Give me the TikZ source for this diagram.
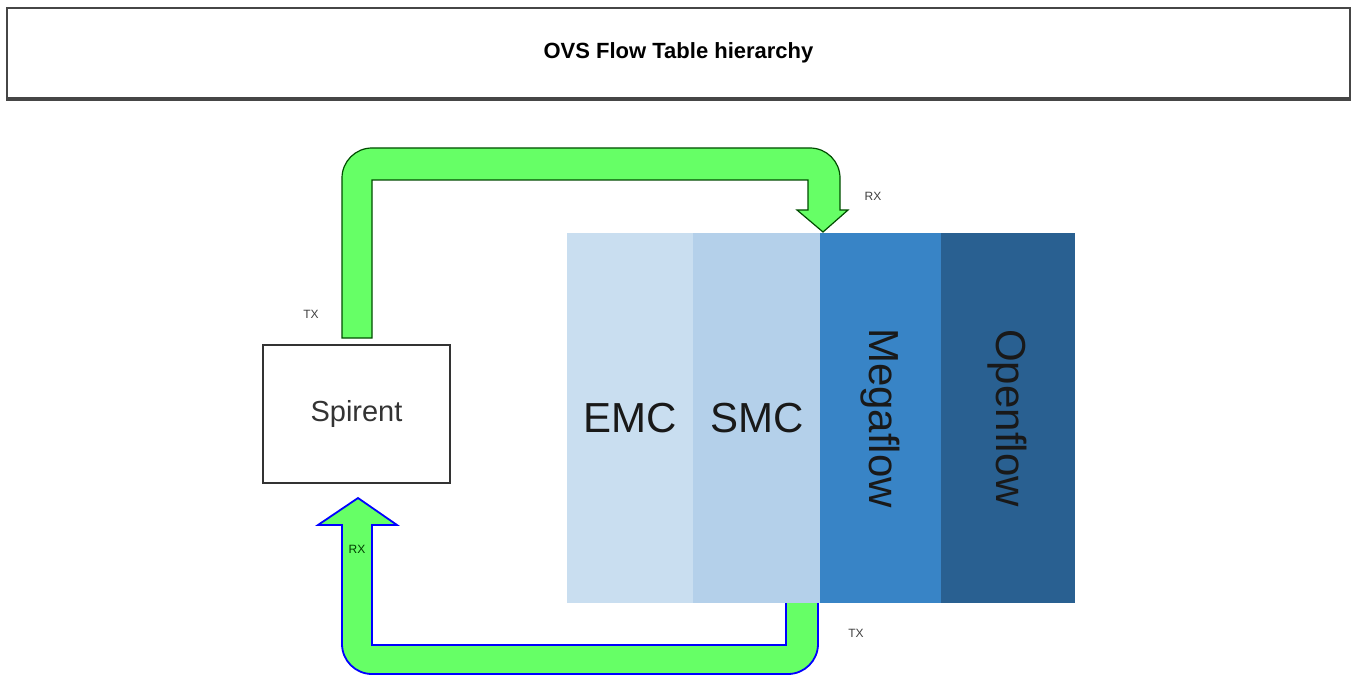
\documentclass[tikz,border=0pt]{standalone}
\usepackage{fontspec}
\setmainfont{Liberation Sans}
\definecolor{arrowgreen}{RGB}{102,255,102}
\definecolor{emccol}{RGB}{201,222,240}
\definecolor{smccol}{RGB}{180,208,234}
\definecolor{megacol}{RGB}{56,132,198}
\definecolor{opencol}{RGB}{41,96,145}
\definecolor{framegray}{RGB}{70,70,70}
\tikzset{
  block/.style={draw=none, inner sep=0pt, minimum height=185pt},
  smalllabel/.style={font=\fontsize{6pt}{7pt}\selectfont, text=black!75},
  bigtext/.style={font=\fontsize{21pt}{25pt}\selectfont, text=black!90}
}
\begin{document}
\begin{tikzpicture}[x=0.5pt,y=-0.5pt]
\useasboundingbox (0,0) rectangle (1353,679);
% title
\node[draw=framegray, line width=1pt, minimum width=671.5pt, minimum height=45pt, inner sep=0pt,
      font=\bfseries\fontsize{11pt}{13pt}\selectfont] (title) at (678.5,53) {OVS Flow Table hierarchy};
\draw[framegray, line width=1.6pt] (title.south west) -- (title.south east);
% bottom arrow (TX from table to RX of Spirent), drawn under the blocks
\draw[fill=arrowgreen, draw=blue, line width=0.9pt]
  (358,498) -- (397,525) -- (372,525) -- (372,645) -- (786,645) -- (786,598) -- (818,598)
  [rounded corners=15pt] -- (818,674) -- (342,674) [sharp corners] -- (342,525) -- (318,525) -- cycle;
% blocks
\node[block, fill=emccol, minimum width=64pt] (emc) at (630.5,418) {};
\node[block, fill=smccol, minimum width=64pt] (smc) at (757,418) {};
\node[block, fill=megacol, minimum width=61pt] (mega) at (880.5,418) {};
\node[block, fill=opencol, minimum width=67pt] (open) at (1007.5,418) {};
\node[bigtext] at (emc.center) {EMC};
\node[bigtext] at (smc.center) {SMC};
\node[bigtext, rotate=-90] at (mega.center) {Megaflow};
\node[bigtext, rotate=-90] at (open.center) {Openflow};
% spirent
\node[draw=black!80, line width=0.7pt, minimum width=93.5pt, minimum height=69pt, inner sep=0pt,
      font=\fontsize{14.5pt}{17pt}\selectfont, text=black!80] (spirent) at (356.5,414) {Spirent};
% top arrow (TX from Spirent to RX of table)
\draw[fill=arrowgreen, draw=black!70!green, line width=0.6pt]
  (342,338) [rounded corners=15pt] -- (342,148) -- (840,148) [sharp corners] -- (840,210)
  -- (848,210) -- (823,232) -- (797,210) -- (808,210) -- (808,180) -- (372,180) -- (372,338) -- cycle;
% labels
\node[smalllabel] (tx1) at (311,314) {TX};
\node[smalllabel] (rx1) at (873,196) {RX};
\node[smalllabel, text=black!60!green!60!black] (rx2) at (357,549) {RX};
\node[smalllabel] (tx2) at (856,633) {TX};
\end{tikzpicture}
\end{document}
